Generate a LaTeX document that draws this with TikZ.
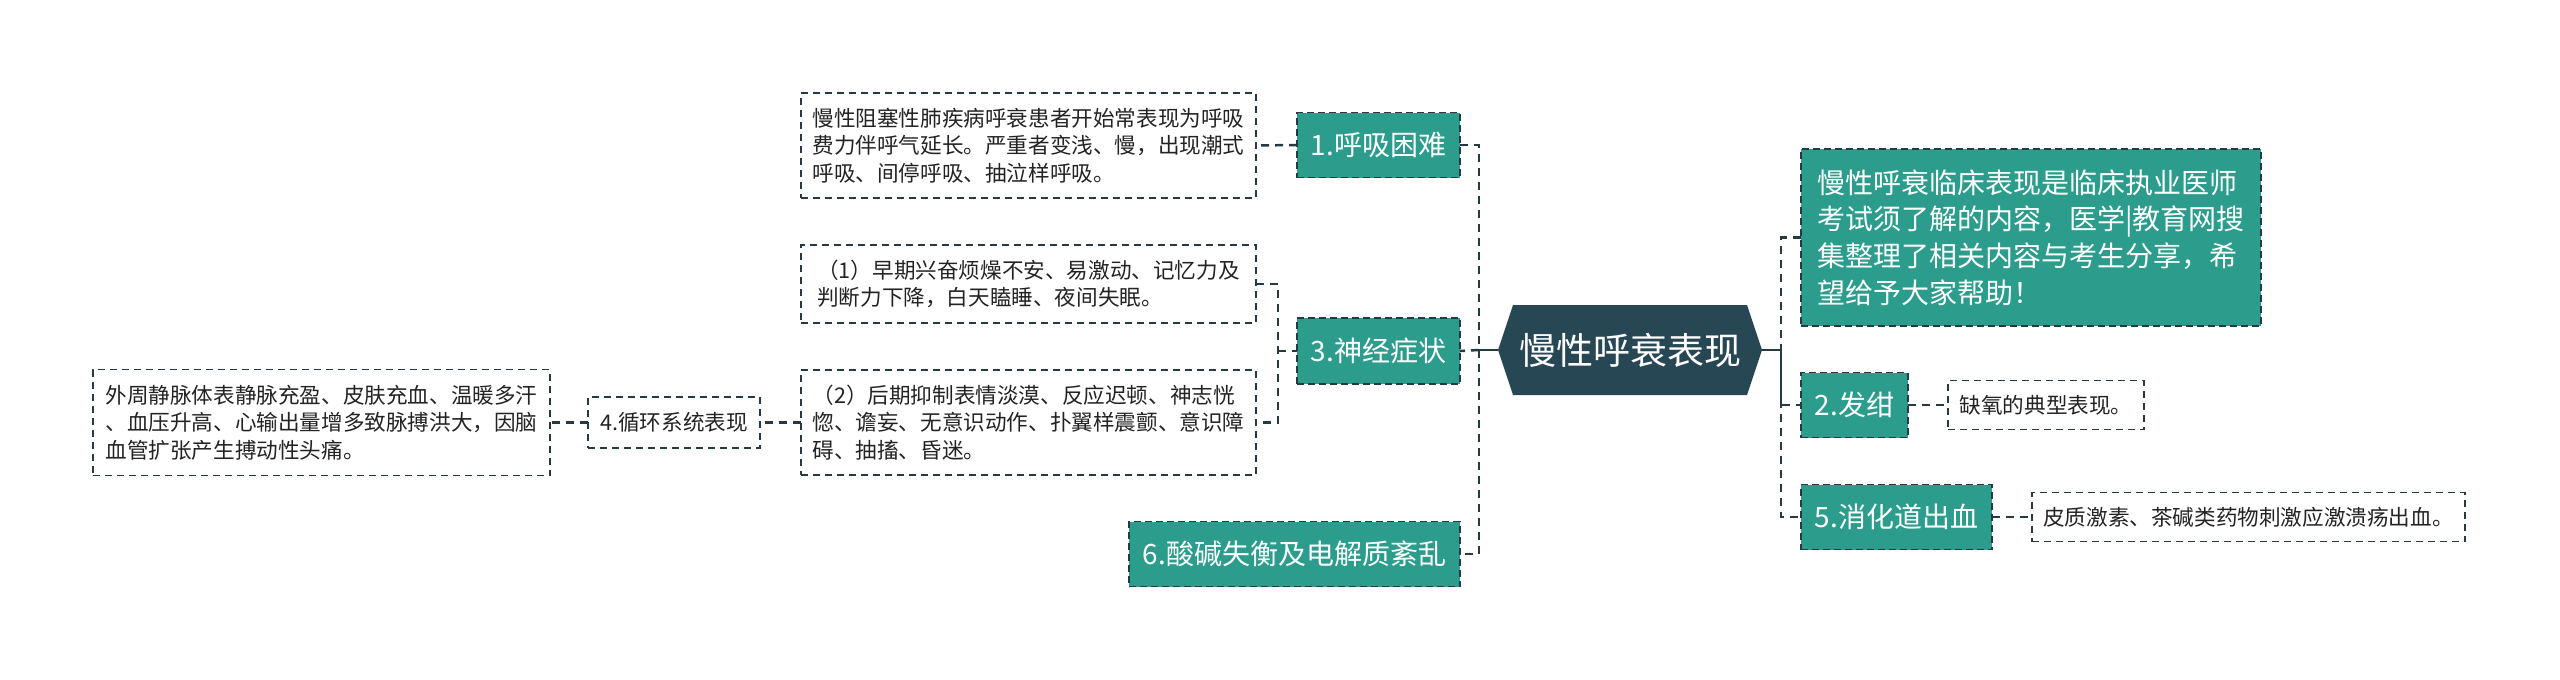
\documentclass[tikz,border=0pt]{standalone}
\usepackage{fontspec}
\setmainfont{Noto Sans CJK SC}
\usetikzlibrary{calc,backgrounds}
\definecolor{teal1}{RGB}{44,157,140}
\definecolor{darkroot}{RGB}{40,71,84}
\definecolor{linec}{RGB}{38,58,68}
\definecolor{txt}{RGB}{35,35,35}
\begin{document}
\begin{tikzpicture}[x=0.5pt,y=-0.5pt,
  every node/.style={inner sep=0pt, outer sep=0pt},
  topic/.style={fill=teal1, draw=linec, dash pattern=on 3.5pt off 2pt, line width=0.7pt, text=white, font=\fontsize{14}{17}\selectfont, minimum height=32.5pt},
  note/.style={draw=linec, dash pattern=on 3.5pt off 2.5pt, line width=0.7pt, text=txt, font=\fontsize{10.8}{13.75}\selectfont, align=left},
  conn/.style={draw=linec, line width=1.25pt, dash pattern=on 4pt off 3pt},
  solidconn/.style={draw=linec, line width=1.25pt},
]
\useasboundingbox (0,0) rectangle (2560,680);

% root
\node[text=white, font=\fontsize{18.5}{22}\selectfont, minimum width=132pt, minimum height=45pt] (root) at (1630,350) {慢性呼衰表现};
\begin{scope}[on background layer]
\fill[darkroot] (root.west) -- ($(root.north west)+(15,0)$) -- ($(root.north east)+(-15,0)$) -- (root.east) -- ($(root.south east)+(-15,0)$) -- ($(root.south west)+(15,0)$) -- cycle;
\end{scope}

% left topics
\node[topic, minimum width=81.5pt] (n1) at (1378.5,145) {1.呼吸困难};
\node[topic, minimum width=81.5pt, minimum height=33pt] (n3) at (1378.5,351) {3.神经症状};
\node[topic, minimum width=165.5pt] (n6) at (1294.5,554) {6.酸碱失衡及电解质紊乱};

% right topics
\node[topic, minimum width=230pt, minimum height=88.5pt, align=left, font=\fontsize{14}{18.3}\selectfont] (big) at (2031,237.5) {慢性呼衰临床表现是临床执业医师\\考试须了解的内容，医学|教育网搜\\集整理了相关内容与考生分享，希\\望给予大家帮助！};
\node[topic, minimum width=53.5pt] (n2) at (1854.5,405) {2.发绀};
\node[topic, minimum width=95.5pt] (n5) at (1896.5,517) {5.消化道出血};

% notes
\node[note, minimum width=227.5pt, minimum height=52.5pt] (t1) at (1028.5,145.5) {慢性阻塞性肺疾病呼衰患者开始常表现为呼吸\\费力伴呼气延长。严重者变浅、慢，出现潮式\\呼吸、间停呼吸、抽泣样呼吸。};
\node[note, minimum width=227.5pt, minimum height=39pt] (t3a) at (1028.5,284) {（1）早期兴奋烦燥不安、易激动、记忆力及\\判断力下降，白天瞌睡、夜间失眠。};
\node[note, minimum width=227.5pt, minimum height=52.5pt] (t3b) at (1028.5,422.5) {（2）后期抑制表情淡漠、反应迟顿、神志恍\\惚、谵妄、无意识动作、扑翼样震颤、意识障\\碍、抽搐、昏迷。};
\node[note, minimum width=86pt, minimum height=25.5pt] (n4) at (674,422.5) {4.循环系统表现};
\node[note, minimum width=228.5pt, minimum height=53pt] (t4) at (321.5,422.5) {外周静脉体表静脉充盈、皮肤充血、温暖多汗\\、血压升高、心输出量增多致脉搏洪大，因脑\\血管扩张产生搏动性头痛。};
\node[note, minimum width=98pt, minimum height=24.5pt] (t2) at (2046,405) {缺氧的典型表现。};
\node[note, minimum width=216.5pt, minimum height=24.5pt] (t5) at (2248.5,517) {皮质激素、茶碱类药物刺激应激溃疡出血。};

% connectors
\coordinate (lt) at (1479,350);
\coordinate (rt) at (1781,350);
\coordinate (b3) at (1278,351);
\draw[solidconn] (root.west) -- (lt);
\draw[solidconn] (root.east) -- (rt);
\draw[conn] (n1.east) -| (lt) |- (n6.east);
\draw[conn] (lt) -- (n3.east);
\draw[conn] (big.west) -| (rt) |- (n5.west);
\draw[conn] (rt) |- (n2.west);
\draw[conn] (n1.west) -- (t1.east);
\draw[conn] (t3a.east) -| (b3) |- (t3b.east);
\draw[conn] (b3) -- (n3.west);
\draw[conn] (t3b.west) -- (n4.east);
\draw[conn] (n4.west) -- (t4.east);
\draw[conn] (n2.east) -- (t2.west);
\draw[conn] (n5.east) -- (t5.west);
\end{tikzpicture}
\end{document}
